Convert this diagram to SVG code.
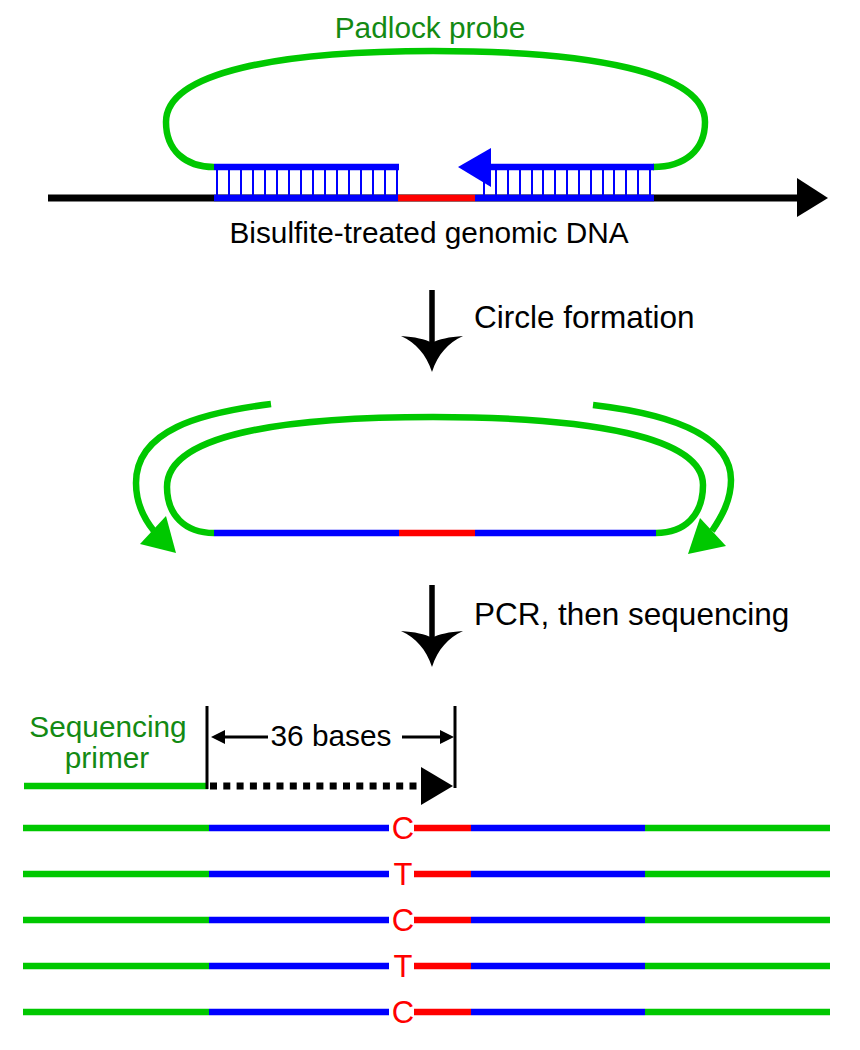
<svg xmlns="http://www.w3.org/2000/svg" width="860" height="1050" viewBox="0 0 860 1050">
<defs>
<style>
text{font-family:"Liberation Sans",Arial,Helvetica,sans-serif;font-size:29.8px}
.lbl{fill:#000}
.step{font-size:31.5px}
.glbl{fill:#138a13}
.base{fill:#ff0000;text-anchor:middle;font-size:31px}
.g{stroke:#00c800;stroke-width:6.5;fill:none}
.b{stroke:#0000ff;stroke-width:6.5;fill:none}
.r{stroke:#ff0000;stroke-width:6.5;fill:none}
.k{stroke:#000;stroke-width:7;fill:none}
.rung{stroke:#0000ff;stroke-width:2}
.dim{stroke:#000;stroke-width:3;fill:none}
</style>
<g id="bigArrow">
<line x1="0" y1="0" x2="0" y2="60" stroke="#000" stroke-width="5.5"/>
<path d="M0,82 C-6,64 -16,53 -31,46 C-17,47 -7,49 0,53 C7,49 17,47 31,46 C16,53 6,64 0,82 Z" fill="#000"/>
</g>
<g id="row">
<line class="g" x1="23" y1="0" x2="209" y2="0"/>
<line class="b" x1="209" y1="0" x2="389" y2="0"/>
<line class="r" x1="414" y1="0" x2="471" y2="0"/>
<line class="b" x1="471" y1="0" x2="645" y2="0"/>
<line class="g" x1="645" y1="0" x2="830" y2="0"/>
</g>
</defs>
<rect width="860" height="1050" fill="#fff"/>

<g id="genomic-dna">
<line class="k" x1="48" y1="198" x2="800" y2="198"/>
<polygon points="797,178 828,198 797,217" fill="#000"/>
<line class="b" x1="214" y1="198" x2="398" y2="198"/>
<line class="r" x1="398" y1="198" x2="475" y2="198"/>
<line class="b" x1="475" y1="198" x2="654" y2="198"/>
<text class="lbl" x="429" y="243" text-anchor="middle">Bisulfite-treated genomic DNA</text>
</g>

<g id="padlock-probe">
<path class="g" d="M214,167 C185,167 166,150 166,122 C166,72 280,51 433,51 C590,51 705,72 705,122 C705,150 685,167 653,167"/>
<line class="b" x1="214" y1="167" x2="399" y2="167" stroke-width="6"/>
<g id="rungs-left">
<line class="rung" x1="217" y1="170" x2="217" y2="195"/>
<line class="rung" x1="229" y1="170" x2="229" y2="195"/>
<line class="rung" x1="241" y1="170" x2="241" y2="195"/>
<line class="rung" x1="253" y1="170" x2="253" y2="195"/>
<line class="rung" x1="265" y1="170" x2="265" y2="195"/>
<line class="rung" x1="277" y1="170" x2="277" y2="195"/>
<line class="rung" x1="289" y1="170" x2="289" y2="195"/>
<line class="rung" x1="301" y1="170" x2="301" y2="195"/>
<line class="rung" x1="313" y1="170" x2="313" y2="195"/>
<line class="rung" x1="325" y1="170" x2="325" y2="195"/>
<line class="rung" x1="337" y1="170" x2="337" y2="195"/>
<line class="rung" x1="349" y1="170" x2="349" y2="195"/>
<line class="rung" x1="361" y1="170" x2="361" y2="195"/>
<line class="rung" x1="373" y1="170" x2="373" y2="195"/>
<line class="rung" x1="385" y1="170" x2="385" y2="195"/>
<line class="rung" x1="397" y1="170" x2="397" y2="195"/>
</g>
<line class="b" x1="488" y1="167" x2="654" y2="167" stroke-width="6"/>
<polygon points="458,167 491,148 491,187" fill="#0000ff"/>
<g id="rungs-right">
<line class="rung" x1="484" y1="170" x2="484" y2="195"/>
<line class="rung" x1="496" y1="170" x2="496" y2="195"/>
<line class="rung" x1="508" y1="170" x2="508" y2="195"/>
<line class="rung" x1="520" y1="170" x2="520" y2="195"/>
<line class="rung" x1="532" y1="170" x2="532" y2="195"/>
<line class="rung" x1="543" y1="170" x2="543" y2="195"/>
<line class="rung" x1="555" y1="170" x2="555" y2="195"/>
<line class="rung" x1="567" y1="170" x2="567" y2="195"/>
<line class="rung" x1="579" y1="170" x2="579" y2="195"/>
<line class="rung" x1="591" y1="170" x2="591" y2="195"/>
<line class="rung" x1="603" y1="170" x2="603" y2="195"/>
<line class="rung" x1="614" y1="170" x2="614" y2="195"/>
<line class="rung" x1="626" y1="170" x2="626" y2="195"/>
<line class="rung" x1="638" y1="170" x2="638" y2="195"/>
<line class="rung" x1="650" y1="170" x2="650" y2="195"/>
</g>
<text class="glbl" x="430" y="38" text-anchor="middle">Padlock probe</text>
</g>

<g id="step1">
<use href="#bigArrow" x="432" y="290"/>
<text class="lbl step" x="474" y="328">Circle formation</text>
</g>

<g id="circle">
<path class="g" d="M214,533 C185,533 167,515 167,487 C167,437 272,417 433,417 C590,417 703,437 703,485 C703,515 685,533 656,533"/>
<line class="b" x1="214" y1="533" x2="399" y2="533"/>
<line class="r" x1="399" y1="533" x2="475" y2="533"/>
<line class="b" x1="475" y1="533" x2="656" y2="533"/>
<path class="g" d="M271,404 C200,413 136,430 136,483 C136,505 145,520 154,531"/>
<polygon points="140,544 166,516 176,553" fill="#00c800"/>
<path class="g" d="M593,405 C670,414 731,435 731,480 C731,500 722,516 712,531"/>
<polygon points="688,554 700,518 726,546" fill="#00c800"/>
</g>

<g id="step2">
<use href="#bigArrow" x="432" y="585"/>
<text class="lbl step" x="474" y="625">PCR, then sequencing</text>
</g>

<g id="primer">
<text class="glbl" x="108" y="737" text-anchor="middle" font-size="29.5">Sequencing</text>
<text class="glbl" x="107" y="768" text-anchor="middle" font-size="29.5">primer</text>
<line class="g" x1="24" y1="786" x2="208" y2="786"/>
</g>

<g id="connectors">
<line x1="210" y1="786" x2="424" y2="786" stroke="#000" stroke-width="7" stroke-dasharray="7 6.3"/>
<polygon points="421,767 453,786 421,805" fill="#000"/>
<line class="dim" x1="207" y1="706" x2="207" y2="789"/>
<line class="dim" x1="455" y1="706" x2="455" y2="788"/>
<line class="dim" x1="222" y1="737" x2="268" y2="737"/>
<polygon points="211,737 225,730 225,744" fill="#000"/>
<line class="dim" x1="402" y1="737" x2="443" y2="737"/>
<polygon points="454,737 440,730 440,744" fill="#000"/>
<text class="lbl" x="331" y="746" text-anchor="middle" font-size="27">36 bases</text>
</g>

<g id="reads">
<g id="read1"><use href="#row" y="828"/><text class="base" x="403" y="839">C</text></g>
<g id="read2"><use href="#row" y="874"/><text class="base" x="403" y="885">T</text></g>
<g id="read3"><use href="#row" y="920"/><text class="base" x="403" y="931">C</text></g>
<g id="read4"><use href="#row" y="966"/><text class="base" x="403" y="977">T</text></g>
<g id="read5"><use href="#row" y="1012"/><text class="base" x="403" y="1023">C</text></g>
</g>
</svg>
